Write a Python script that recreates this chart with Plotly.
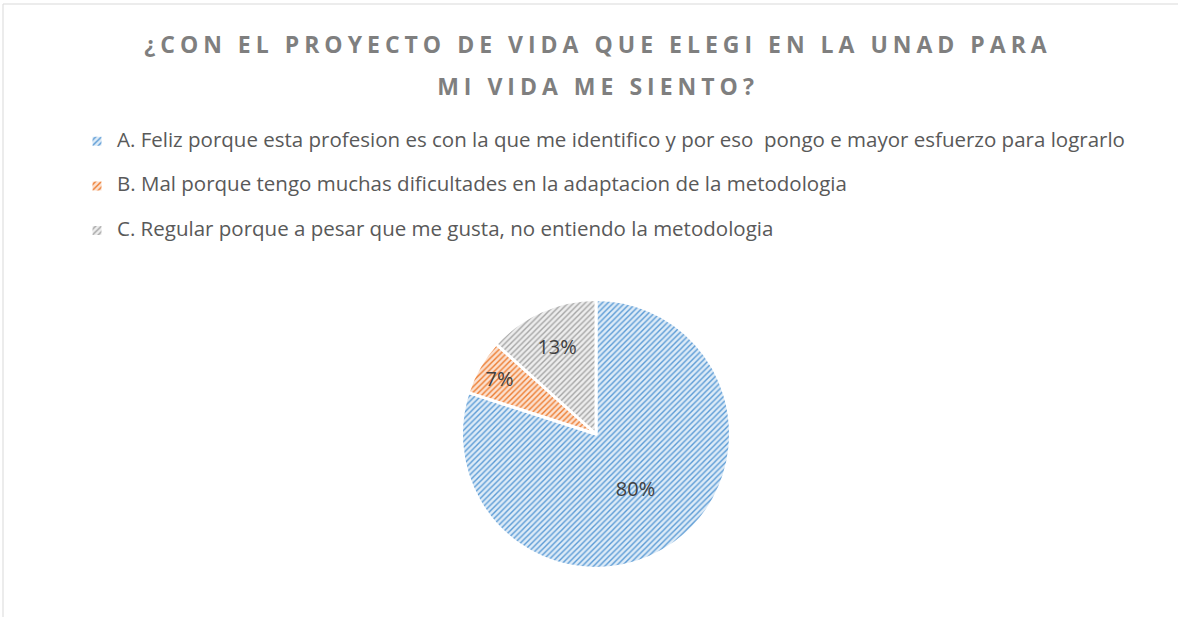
import plotly.graph_objects as go

title_lines = ["¿CON EL PROYECTO DE VIDA QUE ELEGI EN LA UNAD PARA", "MI VIDA ME SIENTO?"]
categories = [
    "A. Feliz porque esta profesion es con la que me identifico y por eso  pongo e mayor esfuerzo para lograrlo",
    "B. Mal porque tengo muchas dificultades en la adaptacion de la metodologia",
    "C. Regular porque a pesar que me gusta, no entiendo la metodologia",
]
counts = [12, 1, 2]
colors = ["#5B9BD5", "#ED7D31", "#A5A5A5"]
light_colors = ["#DDEBF7", "#FBE0CF", "#EDEDED"]

W, H = 1178, 617
CX, CY, R = 596, 434, 134.5

# legend labels: visible text size set in a span, base font size controls row spacing
legend_labels = [
    '<span style="font-size:20.5px;baseline-shift:7px">' + c + "</span>" for c in categories
]

fig = go.Figure()
fig.add_trace(go.Pie(
    labels=legend_labels,
    values=counts,
    sort=False,
    direction="clockwise",
    rotation=0,
    texttemplate="%{percent:.0%}",
    textposition="inside",
    insidetextorientation="horizontal",
    insidetextfont=dict(size=20, color="#404040", family="Open Sans"),
    marker=dict(
        colors=light_colors,
        line=dict(color="white", width=3),
        pattern=dict(shape="/", fgcolor=colors, bgcolor=light_colors, size=4, solidity=0.35),
    ),
    domain=dict(x=[(CX - R) / W, (CX + R) / W], y=[1 - (CY + R) / H, 1 - (CY - R) / H]),
    hoverinfo="percent",
))

title_text = "<br>".join(
    '<span style="font-size:23px;letter-spacing:5px">' + t + "</span>" for t in title_lines
)

fig.update_layout(
    width=W, height=H,
    margin=dict(l=0, r=0, t=0, b=0),
    paper_bgcolor="white",
    plot_bgcolor="white",
    title=dict(
        text="<b>" + title_text + "</b>",
        x=598 / W, xanchor="center", y=1 - 53 / H, yanchor="top",
        font=dict(family="Open Sans", size=32, color="#7F7F7F"),
    ),
    showlegend=True,
    legend=dict(
        x=77 / W, xanchor="left", y=1 - 114 / H, yanchor="top",
        font=dict(family="Open Sans", size=32, color="#595959"),
        bgcolor="rgba(0,0,0,0)",
    ),
    shapes=[dict(
        type="rect", xref="paper", yref="paper",
        x0=3 / W, x1=1.05, y0=-0.05, y1=1 - 4 / H,
        line=dict(color="#D9D9D9", width=1), fillcolor="rgba(0,0,0,0)",
    )],
)

fig.write_html(
    "out.html",
    config={"displayModeBar": False},
    post_script="document.body.style.margin='0';document.body.style.overflow='hidden';",
)
